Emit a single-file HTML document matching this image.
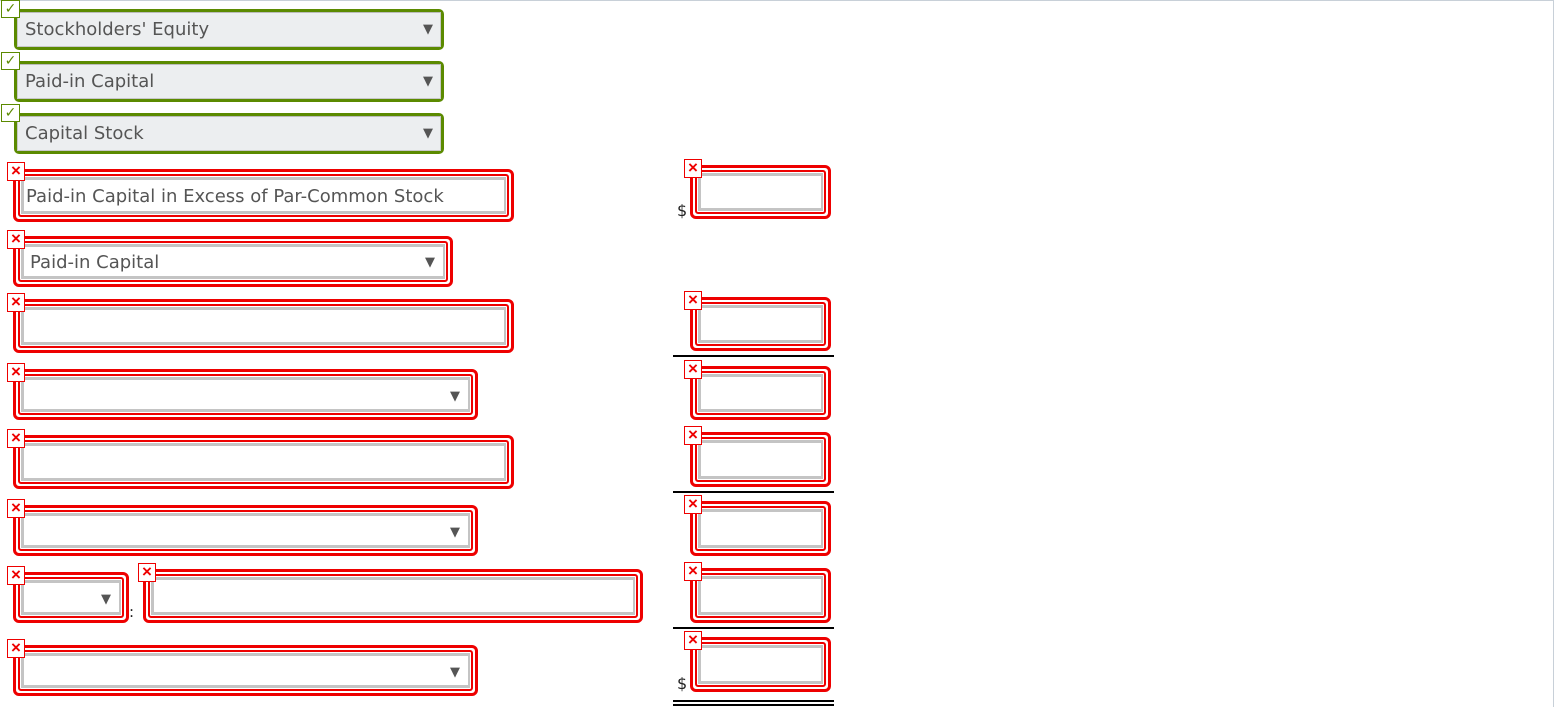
<!DOCTYPE html>
<html><head><style>
body{margin:0;width:1556px;height:707px;background:#fff;position:relative;overflow:hidden;font-family:"DejaVu Sans","Liberation Sans",sans-serif;}
.top{position:absolute;left:0;top:0;width:1553px;border-top:1px solid #c8d0d8;border-right:1px solid #c8d0d8;height:706px;}
.g{position:absolute;left:14px;width:424px;height:35px;border:3px solid #5b8a00;border-radius:5px;background:#eceef0;}
.g .in{position:absolute;left:0;top:0;right:0;bottom:0;border:1px solid #c8c8c8;border-top-color:#bbb;}
.t{position:absolute;left:8px;font-size:18px;color:#555;white-space:nowrap;}
.arr{position:absolute;font-size:13px;color:#555;}
.ck{position:absolute;left:1px;width:17px;height:16px;border:1px solid #5b8a00;background:#fff;color:#5b8a00;font-size:14px;font-weight:bold;line-height:16px;text-align:center;}
.r{position:absolute;border:3px solid #e00;border-radius:6px;background:#fff;box-sizing:border-box;}
.r .m{position:absolute;left:2px;top:2px;right:2px;bottom:2px;border:2px solid #e00;border-radius:3px;background:#fff;}
.r .in{position:absolute;left:1px;top:1px;right:1px;bottom:1px;border:3px solid #c4c4c4;border-right-width:2px;border-bottom-width:3px;background:#fff;}
.x{position:absolute;width:16px;height:17px;border:1px solid #e00;background:#fff;color:#e00;font-size:17px;font-weight:bold;line-height:16px;text-align:center;font-family:"Liberation Sans",sans-serif;}
.ln{position:absolute;left:673px;width:161px;height:2px;background:#000;}
.d{position:absolute;font-size:16px;color:#222;}
</style></head><body>
<div class="top"></div>

<div class="g" style="top:9px"><div class="in"></div><div class="t" style="top:7px">Stockholders' Equity</div><div class="arr" style="left:406px;top:10px">▼</div></div>
<div class="ck" style="top:0px">✓</div>
<div class="g" style="top:61px"><div class="in"></div><div class="t" style="top:7px">Paid-in Capital</div><div class="arr" style="left:406px;top:10px">▼</div></div>
<div class="ck" style="top:52px">✓</div>
<div class="g" style="top:113px"><div class="in"></div><div class="t" style="top:7px">Capital Stock</div><div class="arr" style="left:406px;top:10px">▼</div></div>
<div class="ck" style="top:104px">✓</div>

<div class="r" style="left:13px;top:169px;width:501px;height:53px"><div class="m"><div class="in"><div class="t" style="left:2px;top:6px">Paid-in Capital in Excess of Par-Common Stock</div></div></div></div>
<div class="x" style="left:7px;top:162px">×</div>

<div class="r" style="left:13px;top:236px;width:440px;height:51px"><div class="m"><div class="in"><div class="t" style="left:6px;top:5px">Paid-in Capital</div><div class="arr" style="right:8px;top:8px">▼</div></div></div></div>
<div class="x" style="left:7px;top:230px">×</div>

<div class="r" style="left:13px;top:299px;width:501px;height:54px"><div class="m"><div class="in"></div></div></div>
<div class="x" style="left:7px;top:293px">×</div>

<div class="r" style="left:13px;top:369px;width:465px;height:51px"><div class="m"><div class="in"><div class="arr" style="right:8px;top:9px">▼</div></div></div></div>
<div class="x" style="left:7px;top:363px">×</div>

<div class="r" style="left:13px;top:435px;width:501px;height:54px"><div class="m"><div class="in"></div></div></div>
<div class="x" style="left:7px;top:429px">×</div>

<div class="r" style="left:13px;top:505px;width:465px;height:51px"><div class="m"><div class="in"><div class="arr" style="right:8px;top:9px">▼</div></div></div></div>
<div class="x" style="left:7px;top:499px">×</div>

<div class="r" style="left:13px;top:572px;width:116px;height:51px"><div class="m"><div class="in"><div class="arr" style="right:8px;top:9px">▼</div></div></div></div>
<div class="x" style="left:7px;top:566px">×</div>
<div class="d" style="left:129px;top:603px;font-size:15px">:</div>
<div class="r" style="left:143px;top:569px;width:500px;height:54px"><div class="m"><div class="in"></div></div></div>
<div class="x" style="left:138px;top:563px">×</div>

<div class="r" style="left:13px;top:645px;width:465px;height:51px"><div class="m"><div class="in"><div class="arr" style="right:8px;top:9px">▼</div></div></div></div>
<div class="x" style="left:7px;top:639px">×</div>

<div class="r" style="left:690px;top:165px;width:141px;height:54px"><div class="m"><div class="in"></div></div></div>
<div class="x" style="left:684px;top:159px">×</div>
<div class="d" style="left:677px;top:201px">$</div>

<div class="r" style="left:690px;top:297px;width:141px;height:54px"><div class="m"><div class="in"></div></div></div>
<div class="x" style="left:684px;top:291px">×</div>
<div class="ln" style="top:355px"></div>

<div class="r" style="left:690px;top:366px;width:141px;height:54px"><div class="m"><div class="in"></div></div></div>
<div class="x" style="left:684px;top:360px">×</div>

<div class="r" style="left:690px;top:432px;width:141px;height:55px"><div class="m"><div class="in"></div></div></div>
<div class="x" style="left:684px;top:426px">×</div>
<div class="ln" style="top:491px"></div>

<div class="r" style="left:690px;top:501px;width:141px;height:55px"><div class="m"><div class="in"></div></div></div>
<div class="x" style="left:684px;top:495px">×</div>

<div class="r" style="left:690px;top:568px;width:141px;height:55px"><div class="m"><div class="in"></div></div></div>
<div class="x" style="left:684px;top:562px">×</div>
<div class="ln" style="top:627px"></div>

<div class="r" style="left:690px;top:637px;width:141px;height:55px"><div class="m"><div class="in"></div></div></div>
<div class="x" style="left:684px;top:631px">×</div>
<div class="d" style="left:677px;top:674px">$</div>
<div class="ln" style="top:700px"></div>
<div class="ln" style="top:704px"></div>
</body></html>
